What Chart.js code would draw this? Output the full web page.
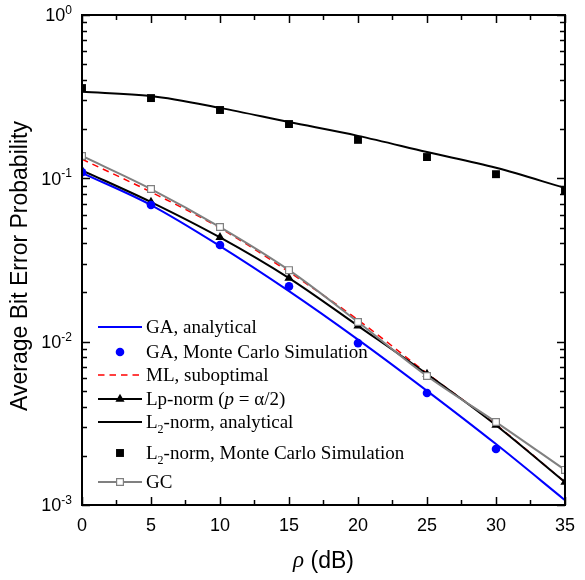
<!DOCTYPE html>
<html lang="en">
<head>
<meta charset="UTF-8">
<title>Average Bit Error Probability</title>
<script src="https://cdn.jsdelivr.net/npm/chart.js"></script>
<style>
  html, body { margin: 0; padding: 0; background: #fff; }
</style>
</head>
<body>
<canvas id="berChart" width="585" height="580"></canvas>
<script>
// x positions (dB)
const rhoDb = [0, 5, 10, 15, 20, 25, 30, 35];

// series
const gaAnalytical = [0.108, 0.0686, 0.0385, 0.0204, 0.0103, 0.0050, 0.00236, 0.00107];
const gaMonteCarlo = [0.109, 0.0686, 0.0391, 0.0218, 0.0098, 0.00485, 0.0022];
const mlSuboptimal = [0.131, 0.0824, 0.0496, 0.0267, 0.0136, 0.0064, 0.0031, 0.00138];
const lpNorm       = [0.112, 0.0716, 0.0435, 0.0245, 0.0125, 0.00634, 0.00308, 0.00138];
const l2Analytical = [0.339, 0.319, 0.270, 0.221, 0.182, 0.145, 0.116, 0.0873];
const l2MonteCarlo = [0.357, 0.310, 0.262, 0.215, 0.172, 0.135, 0.106, 0.0836];
const gcValues     = [0.137, 0.086, 0.0503, 0.0274, 0.0132, 0.00616, 0.00322, 0.00164];

// axis ticks
const xTickStep = 5;
const xMinorStep = 2.5;
const yDecades = [-3, -2, -1, 0];

// legend text: _2 = subscript, *p* = italic
const legendLabels = [
  'GA, analytical',
  'GA, Monte Carlo Simulation',
  'ML, suboptimal',
  'Lp-norm (*p* = α/2)',
  'L_2-norm, analytical',
  'L_2-norm, Monte Carlo Simulation',
  'GC'
];

const toPoints = (ys) => ys.map((v, i) => ({ x: rhoDb[i], y: v }));

// dataset index for each legend row
const legendOrder = [6, 0, 4, 3, 5, 1, 2];

const datasets = [
  { // 0
    label: legendLabels[1], data: toPoints(gaMonteCarlo), showLine: false,
    pointStyle: 'circle', pointRadius: 4.3, pointBackgroundColor: '#0000ff',
    pointBorderColor: '#0000ff', pointBorderWidth: 0, borderColor: '#0000ff'
  },
  { // 1
    label: legendLabels[5], data: toPoints(l2MonteCarlo), showLine: false,
    pointStyle: 'rect', pointRadius: 5.6, pointBackgroundColor: '#000',
    pointBorderColor: '#000', pointBorderWidth: 0, borderColor: '#000'
  },
  { // 2
    label: legendLabels[6], data: toPoints(gcValues),
    borderColor: '#808080', borderWidth: 2, cubicInterpolationMode: 'monotone',
    pointStyle: 'rect', pointRadius: 4.8, pointBackgroundColor: '#fff',
    pointBorderColor: '#808080', pointBorderWidth: 1.2
  },
  { // 3
    label: legendLabels[3], data: toPoints(lpNorm),
    borderColor: '#000', borderWidth: 2, cubicInterpolationMode: 'monotone',
    pointStyle: 'triangle', pointRadius: 5.3, pointBackgroundColor: '#000',
    pointBorderColor: '#000', pointBorderWidth: 0
  },
  { // 4
    label: legendLabels[2], data: toPoints(mlSuboptimal),
    borderColor: '#ff0000', borderWidth: 1.5, borderDash: [6.5, 5],
    cubicInterpolationMode: 'monotone', pointRadius: 0
  },
  { // 5
    label: legendLabels[4], data: toPoints(l2Analytical),
    borderColor: '#000', borderWidth: 2, cubicInterpolationMode: 'monotone', pointRadius: 0
  },
  { // 6
    label: legendLabels[0], data: toPoints(gaAnalytical),
    borderColor: '#0000ff', borderWidth: 2, cubicInterpolationMode: 'monotone', pointRadius: 0
  }
];

const SANS = '"Liberation Sans", Arial, sans-serif';
const SERIF = '"Liberation Serif", "Times New Roman", serif';

function richSegments(label) {
  return label.split(/(\*[^*]+\*|_\d)/).filter(s => s).map(s => {
    if (s[0] === '*') return { t: s.slice(1, -1), it: true };
    if (s[0] === '_') return { t: s.slice(1), sub: true };
    return { t: s };
  });
}

const decorations = {
  id: 'decorations',
  afterDraw(chart) {
    const { ctx, chartArea: a, scales: { x, y } } = chart;
    ctx.save();

    // ticks, pointing inward on all four sides
    ctx.strokeStyle = '#000';
    ctx.lineWidth = 1.5;
    ctx.beginPath();
    for (let v = x.min; v <= x.max + 1e-9; v += xMinorStep) {
      const px = Math.round(x.getPixelForValue(v)) + 0.5;
      const len = v % xTickStep === 0 ? 8 : 5;
      ctx.moveTo(px, a.bottom); ctx.lineTo(px, a.bottom - len);
      ctx.moveTo(px, a.top); ctx.lineTo(px, a.top + len);
    }
    yDecades.forEach(d => {
      for (let m = 1; m <= 9; m++) {
        if (d === 0 && m > 1) break;
        const py = Math.round(y.getPixelForValue(m * Math.pow(10, d))) + 0.5;
        const len = m === 1 ? 8 : 5;
        ctx.moveTo(a.left, py); ctx.lineTo(a.left + len, py);
        ctx.moveTo(a.right, py); ctx.lineTo(a.right - len, py);
      }
    });
    ctx.stroke();

    // frame
    ctx.lineWidth = 2;
    ctx.strokeRect(a.left, a.top, a.right - a.left, a.bottom - a.top);

    // y tick labels 10^d
    ctx.fillStyle = '#000';
    ctx.textBaseline = 'alphabetic';
    yDecades.forEach(d => {
      const py = y.getPixelForValue(Math.pow(10, d));
      const exp = String(d);
      ctx.font = '12px ' + SANS;
      const ew = ctx.measureText(exp).width;
      const right = 72;
      ctx.textAlign = 'left';
      ctx.fillText(exp, right - ew, py - 1);
      ctx.font = '18px ' + SANS;
      ctx.textAlign = 'right';
      ctx.fillText('10', right - ew, py + 6.4);
    });

    // y axis title
    ctx.save();
    ctx.translate(27, (a.top + a.bottom) / 2 + 6);
    ctx.rotate(-Math.PI / 2);
    ctx.font = '23px ' + SANS;
    ctx.textAlign = 'center';
    ctx.fillText('Average Bit Error Probability', 0, 0);
    ctx.restore();

    // x axis title: rho (dB)
    ctx.textAlign = 'left';
    ctx.font = 'italic 23px ' + SERIF;
    const rw = ctx.measureText('ρ').width;
    ctx.font = '23px ' + SANS;
    const dw = ctx.measureText(' (dB)').width;
    const x0 = (a.left + a.right) / 2 - (rw + dw) / 2;
    ctx.font = 'italic 23px ' + SERIF;
    ctx.fillText('ρ', x0, 567);
    ctx.font = '23px ' + SANS;
    ctx.fillText(' (dB)', x0 + rw, 568);

    // legend
    const rowsY = [327, 352, 375, 399, 422, 453, 482];
    legendOrder.forEach((di, r) => {
      const ds = chart.data.datasets[di];
      const ry = rowsY[r];
      if (ds.showLine !== false) {
        ctx.save();
        ctx.strokeStyle = ds.borderColor;
        ctx.lineWidth = ds.borderWidth;
        ctx.setLineDash(ds.borderDash || []);
        ctx.beginPath();
        ctx.moveTo(98, ry); ctx.lineTo(142, ry);
        ctx.stroke();
        ctx.restore();
      }
      if (ds.pointRadius > 0) {
        ctx.save();
        ctx.fillStyle = ds.pointBackgroundColor;
        ctx.strokeStyle = ds.pointBorderColor;
        ctx.lineWidth = ds.pointBorderWidth;
        Chart.helpers.drawPoint(ctx, {
          pointStyle: ds.pointStyle, radius: ds.pointRadius,
          rotation: 0, borderWidth: ds.pointBorderWidth
        }, 120, ry);
        ctx.restore();
      }
      let tx = 146;
      const base = ry + 6.3;
      ctx.fillStyle = '#000';
      ctx.textAlign = 'left';
      richSegments(legendLabels[r]).forEach(s => {
        if (s.sub) {
          ctx.font = '12px ' + SERIF;
          ctx.fillText(s.t, tx, base + 5);
        } else {
          ctx.font = (s.it ? 'italic ' : '') + '19px ' + SERIF;
          ctx.fillText(s.t, tx, base);
        }
        tx += ctx.measureText(s.t).width;
      });
    });

    ctx.restore();
  }
};

new Chart(document.getElementById('berChart'), {
  type: 'line',
  data: { datasets: datasets },
  options: {
    responsive: false,
    animation: false,
    devicePixelRatio: 1,
    layout: { padding: { top: 15, right: 12, left: 0, bottom: 0 } },
    plugins: { legend: { display: false }, tooltip: { enabled: false } },
    scales: {
      x: {
        type: 'linear', min: 0, max: 35,
        ticks: {
          stepSize: xTickStep, color: '#000', padding: 10,
          font: { family: SANS, size: 18 }
        },
        grid: { display: false, drawTicks: false },
        border: { display: false },
        afterFit: s => { s.height = 75; }
      },
      y: {
        type: 'logarithmic', min: 0.001, max: 1,
        ticks: { display: false },
        grid: { display: false, drawTicks: false },
        border: { display: false },
        afterFit: s => { s.width = 82; }
      }
    }
  },
  plugins: [decorations]
});
</script>
</body>
</html>
